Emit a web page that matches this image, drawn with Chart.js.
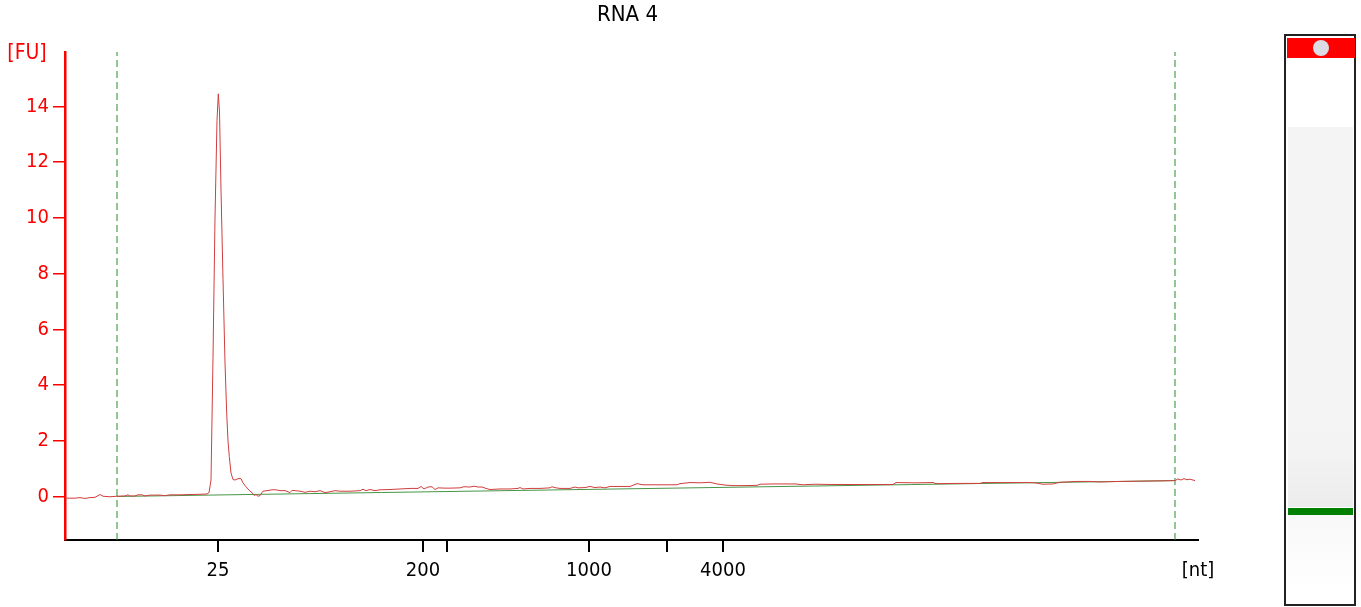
<!DOCTYPE html>
<html>
<head>
<meta charset="utf-8">
<script src="https://cdn.jsdelivr.net/npm/chart.js@4"></script>
<style>
  html, body { margin:0; padding:0; background:#fff; }
  body { width:1361px; height:607px; position:relative; overflow:hidden; }
  #wrap { position:absolute; left:0; top:0; width:1261px; height:607px; }
  #gel { position:absolute; left:1284px; top:34px; width:68px; height:568px; border:2px solid #222; background:#fff; }
  #gel .red { position:absolute; left:1px; top:2px; width:68px; height:20px; background:#ff0000; }
  #gel .blob { position:absolute; left:27px; top:4px; width:16px; height:16px; border-radius:50%; background:#dcdce4; }
  #gel .smear { position:absolute; left:2px; top:91px; width:65px; height:380px; background:linear-gradient(#f4f4f4, #f3f3f3 85%, #ececec); }
  #gel .marker { position:absolute; left:2px; top:472px; width:65px; height:7px; background:#008000; }
  #gel .below { position:absolute; left:2px; top:479px; width:65px; height:70px; background:linear-gradient(#f8f8f8, #fefefe); }
</style>
</head>
<body>
<div id="wrap"><canvas id="c" width="1261" height="607"></canvas></div>
<div id="gel"><div class="red"></div><div class="blob"></div><div class="smear"></div><div class="marker"></div><div class="below"></div></div>
<script>
// migration position (arbitrary time units) and fluorescence [FU]
const traceTime = [0.0,1.0,1.5,2.0,2.5,3.0,3.5,3.8,4.5,5.2,6.0,6.3,6.5,7.0,7.3,7.7,8.0,8.5,9.5,10.0,10.5,11.5,12.5,13.5,14.2,14.4,14.6,14.8,15.0,15.2,15.33,15.45,15.6,15.8,16.0,16.17,16.3,16.43,16.6,16.8,17.0,17.3,17.6,17.8,18.0,18.3,18.5,18.7,18.9,19.1,19.3,19.5,19.8,20.2,20.7,21.1,21.5,22.0,22.5,22.7,23.5,24.0,24.5,25.0,25.5,26.0,26.5,27.0,27.5,28.5,29.5,29.8,30.1,30.5,31.0,31.5,32.5,33.5,34.5,35.3,35.6,35.9,36.3,36.7,37.0,37.3,38.0,38.5,39.5,39.9,40.5,40.9,41.3,41.7,42.1,42.5,43.5,44.5,45.3,45.5,45.8,46.5,47.5,48.5,48.7,49.1,49.5,50.5,51.0,51.3,52.0,52.5,53.0,53.5,54.0,54.5,55.5,56.5,57.2,57.8,59.5,61.2,61.5,62.5,63.5,64.5,65.2,66.0,66.8,68.0,69.2,69.5,70.7,73.0,73.8,75.0,76.8,79.5,82.8,83.1,85.0,86.8,87.1,89.5,91.5,91.8,93.5,96.2,97.0,97.8,98.8,99.5,101.2,102.5,103.5,105.5,107.5,109.5,111.0,111.3,111.6,111.9,112.2,112.5,113.0];
const traceFU = [-0.05,-0.05,-0.03,-0.06,-0.03,-0.02,0.08,0.02,0.0,0.02,0.03,0.07,0.03,0.03,0.07,0.07,0.03,0.06,0.06,0.04,0.07,0.07,0.08,0.09,0.1,0.15,0.6,5.0,10.0,13.5,14.45,13.8,11.0,7.8,4.8,3.0,2.0,1.44,0.85,0.62,0.6,0.65,0.65,0.5,0.4,0.28,0.2,0.15,0.05,0.08,0.02,0.04,0.2,0.22,0.25,0.25,0.22,0.22,0.15,0.23,0.2,0.16,0.2,0.18,0.22,0.15,0.18,0.22,0.2,0.2,0.22,0.27,0.22,0.26,0.22,0.25,0.26,0.28,0.3,0.3,0.37,0.28,0.35,0.36,0.26,0.32,0.31,0.31,0.32,0.36,0.35,0.38,0.35,0.35,0.3,0.26,0.28,0.28,0.3,0.33,0.28,0.3,0.3,0.32,0.36,0.32,0.3,0.3,0.35,0.32,0.33,0.37,0.33,0.35,0.32,0.37,0.37,0.37,0.47,0.43,0.43,0.43,0.47,0.51,0.5,0.52,0.46,0.42,0.4,0.4,0.41,0.45,0.46,0.46,0.43,0.45,0.44,0.44,0.44,0.51,0.5,0.51,0.47,0.48,0.48,0.51,0.51,0.51,0.5,0.45,0.46,0.52,0.55,0.55,0.53,0.55,0.56,0.57,0.58,0.64,0.6,0.65,0.61,0.63,0.58];
// baseline (green) and the lower/upper alignment markers
const baselineTime = [5.2, 111.0];
const baselineFU = [0.01, 0.58];
const markerTimes = [5.2, 111.0];
// axis ticks
const yTicks = [0, 2, 4, 6, 8, 10, 12, 14];
const xTickTimes = [15.3, 35.8, 38.2, 52.4, 60.2, 65.8];
const xTickLabels = ['25', '200', '', '1000', '', '4000'];
const Y_MIN = -1.55, Y_MAX = 15.95, X_MIN = 0, X_MAX = 113.3;
const TITLE = 'RNA 4';

const FONT = "'DejaVu Sans Condensed', 'DejaVu Sans', sans-serif";

const datasets = [
  { label: 'Sample', data: traceTime.map((t, i) => ({ x: t, y: traceFU[i] })),
    borderColor: 'rgb(208,62,62)', borderWidth: 1, pointRadius: 0, tension: 0 },
  { label: 'Baseline', data: baselineTime.map((t, i) => ({ x: t, y: baselineFU[i] })),
    borderColor: 'rgb(70,150,70)', borderWidth: 1, pointRadius: 0 }
];
markerTimes.forEach(t => datasets.push({
  label: 'Marker', data: [{ x: t, y: Y_MIN }, { x: t, y: Y_MAX }],
  borderColor: 'rgb(40,140,40)', borderWidth: 1, borderDash: [7, 4], pointRadius: 0
}));

const textLabels = {
  id: 'textLabels',
  afterDraw(chart) {
    const { ctx, chartArea } = chart;
    ctx.save();
    ctx.textBaseline = 'middle';
    ctx.textAlign = 'center';
    ctx.fillStyle = '#000';
    ctx.font = "22px " + FONT;
    ctx.fillText(TITLE, (chartArea.left + chartArea.right) / 2 - 4, 15);
    ctx.font = "21px " + FONT;
    ctx.fillStyle = '#ff0000';
    ctx.fillText('[FU]', chartArea.left - 38, chartArea.top + 2);
    ctx.font = "20px " + FONT;
    ctx.fillStyle = '#000';
    ctx.fillText('[nt]', chartArea.right, chartArea.bottom + 31);
    ctx.restore();
  }
};

new Chart(document.getElementById('c'), {
  type: 'line',
  data: { datasets },
  options: {
    responsive: false,
    devicePixelRatio: 1,
    animation: false,
    layout: { padding: { left: 0, right: 63, top: 52, bottom: 0 } },
    plugins: {
      legend: { display: false },
      tooltip: { enabled: false },
      title: { display: false }
    },
    scales: {
      x: {
        type: 'linear', min: X_MIN, max: X_MAX,
        afterBuildTicks: s => { s.ticks = xTickTimes.map(v => ({ value: v })); },
        afterFit: s => { s.height = 67; },
        ticks: { color: '#000', font: { family: FONT, size: 20 }, padding: 7, maxRotation: 0, autoSkip: false,
          callback: (v, i) => xTickLabels[i] },
        grid: { display: true, drawOnChartArea: false, drawTicks: true, tickLength: 12, color: '#000', lineWidth: 2 },
        border: { display: true, color: '#000', width: 2 }
      },
      y: {
        type: 'linear', min: Y_MIN, max: Y_MAX,
        afterBuildTicks: s => { s.ticks = yTicks.map(v => ({ value: v })); },
        afterFit: s => { s.width = 65; },
        ticks: { color: '#ff0000', font: { family: FONT, size: 20 }, padding: 4 },
        grid: { display: true, drawOnChartArea: false, drawTicks: true, tickLength: 12, color: '#ff0000', lineWidth: 1.5 },
        border: { display: true, color: '#ff0000', width: 2.5 }
      }
    }
  },
  plugins: [textLabels]
});
</script>
</body>
</html>
